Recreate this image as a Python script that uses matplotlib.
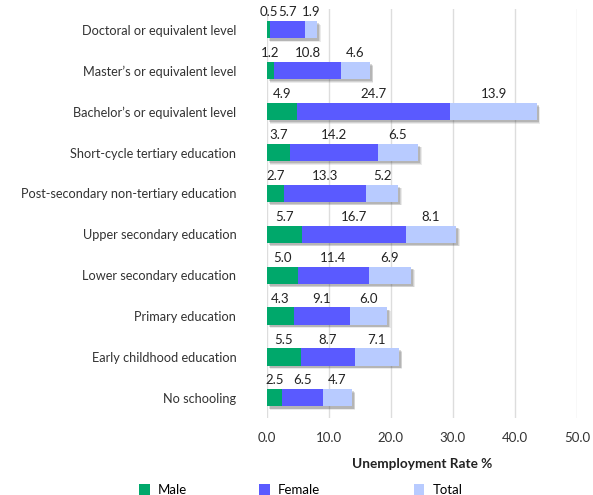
import matplotlib
matplotlib.use("Agg")
import matplotlib.pyplot as plt
import matplotlib.patheffects as pe
from matplotlib.patches import Patch
import numpy as np

plt.rcParams['font.family'] = ['Lato', 'DejaVu Sans']

categories = ["Doctoral or equivalent level", "Master\u2019s or equivalent level",
              "Bachelor\u2019s or equivalent level", "Short-cycle tertiary education",
              "Post-secondary non-tertiary education", "Upper secondary education",
              "Lower secondary education", "Primary education",
              "Early childhood education", "No schooling"]
male = [0.5, 1.2, 4.9, 3.7, 2.7, 5.7, 5.0, 4.3, 5.5, 2.5]
female = [5.7, 10.8, 24.7, 14.2, 13.3, 16.7, 11.4, 9.1, 8.7, 6.5]
total = [1.9, 4.6, 13.9, 6.5, 5.2, 8.1, 6.9, 6.0, 7.1, 4.7]
series_names = ["Male", "Female", "Total"]
colors = ["#00a86b", "#5a5aff", "#b8cbff"]
xticks = [0, 10, 20, 30, 40, 50]

fig = plt.figure(figsize=(5.93, 4.95), dpi=100)
ax = fig.add_axes([0.450, 0.155, 0.523, 0.826])

y = np.arange(len(categories))
bar_h = 0.42
stack_total = np.array(male) + np.array(female) + np.array(total)

# soft shadow behind each full stacked bar
for off, a in [((2.5, -2.5), 0.10), ((2.0, -2.0), 0.15), ((1.5, -1.5), 0.2)]:
    ax.barh(y, stack_total, height=bar_h, color='#555555', alpha=0.0, zorder=2,
            path_effects=[pe.SimplePatchShadow(offset=off, alpha=a, shadow_rgbFace='#444444')])

left = np.zeros(len(categories))
for vals, name, col in zip([male, female, total], series_names, colors):
    vals = np.array(vals)
    bars = ax.barh(y, vals, left=left, height=bar_h, color=col, label=name, zorder=3)
    for b, v, l in zip(bars, vals, left):
        ax.annotate(f"{v:.1f}", (l + v / 2, b.get_y()), xytext=(0, 2), textcoords='offset points',
                    ha='center', va='bottom', fontsize=9.5, color='#222222', zorder=5)
    left = left + vals

ax.set_ylim(len(categories) - 0.5, -0.5)
ax.set_xlim(0, 50)
ax.set_yticks(y)
ax.set_yticklabels(categories, fontsize=9.2, color='#333333')
ax.set_xticks(xticks)
ax.set_xticklabels([f"{t:.1f}" for t in xticks], fontsize=9.5, color='#333333')
ax.tick_params(axis='y', length=0, pad=22)
ax.tick_params(axis='x', length=0, pad=10)
for s in ax.spines.values():
    s.set_visible(False)
ax.grid(axis='x', color='#dddddd', linewidth=1, zorder=0)
ax.set_axisbelow(True)
ax.set_xlabel("Unemployment Rate %", fontsize=9.8, fontweight='bold', color='#222222', labelpad=10)

legend_x = [0.235, 0.437, 0.698]
for name, col, lx in zip(series_names, colors, legend_x):
    h = Patch(facecolor=col, edgecolor='none')
    fig.legend([h], [name], loc='center left', bbox_to_anchor=(lx, 0.01), frameon=False,
               fontsize=9.5, handlelength=0.8, handleheight=0.8, handletextpad=0.6,
               borderaxespad=0, borderpad=0)

fig.savefig("out.png", dpi=100)
